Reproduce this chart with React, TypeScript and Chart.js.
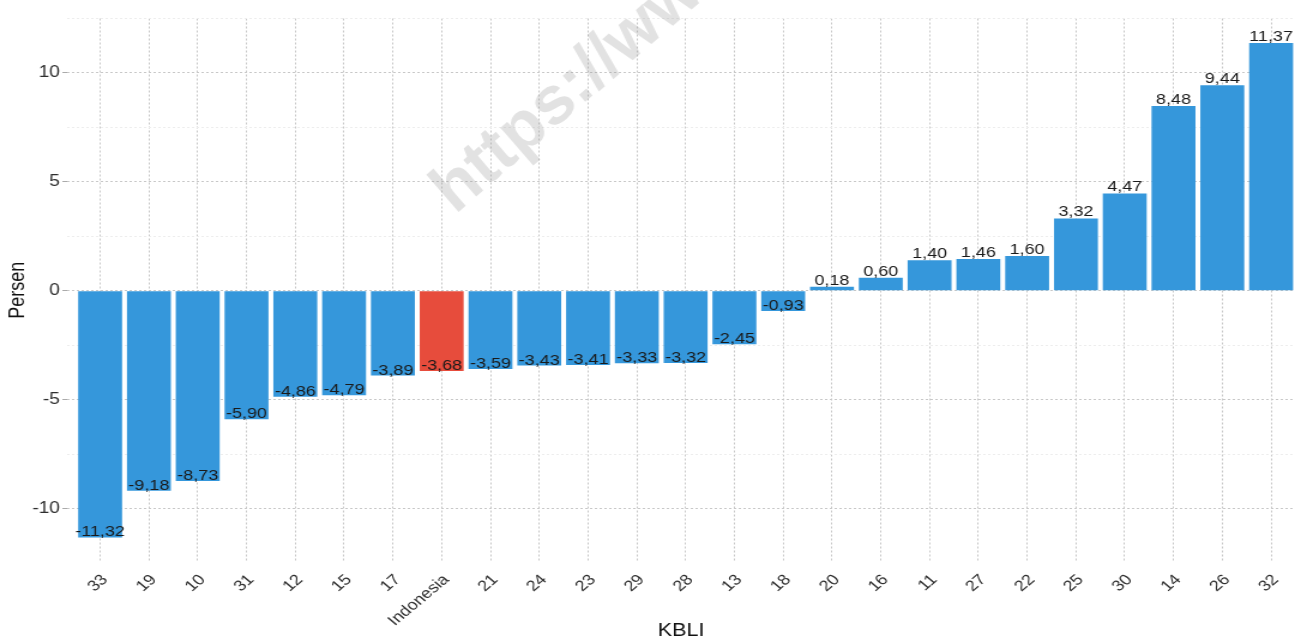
import React, { useEffect, useRef } from 'react';
import { Chart, registerables } from 'chart.js';

Chart.register(...registerables);

// Growth by KBLI sector (percent), sorted ascending
const CATEGORIES = [
  '33', '19', '10', '31', '12', '15', '17', 'Indonesia', '21', '24', '23', '29', '28',
  '13', '18', '20', '16', '11', '27', '22', '25', '30', '14', '26', '32',
];
const GROWTH = [
  -11.32, -9.18, -8.73, -5.9, -4.86, -4.79, -3.89, -3.68, -3.59, -3.43, -3.41, -3.33, -3.32,
  -2.45, -0.93, 0.18, 0.6, 1.4, 1.46, 1.6, 3.32, 4.47, 8.48, 9.44, 11.37,
];
const HIGHLIGHT = 'Indonesia';
const Y_MAJOR = [-10, -5, 0, 5, 10];
const Y_MINOR = [-7.5, -2.5, 2.5, 7.5, 12.5];
const X_TITLE = 'KBLI';
const Y_TITLE = 'Persen';
const WATERMARK = 'https://ww';

const OUT_W = 1295;
const OUT_H = 642;
const CANVAS_W = 1080;
const STRETCH = OUT_W / CANVAS_W;

const BLUE = '#3597db';
const RED = '#e74c3c';
const FONT = '"Liberation Sans", Arial, Helvetica, sans-serif';

const fmt = (v: number) => v.toFixed(2).replace('.', ',');

const watermarkPlugin = {
  id: 'watermark',
  beforeDatasetsDraw(chart: any) {
    const { ctx } = chart;
    ctx.save();
    ctx.scale(1 / STRETCH, 1);
    ctx.translate(455, 215);
    ctx.rotate((-41 * Math.PI) / 180);
    ctx.font = `bold 68px ${FONT}`;
    ctx.fillStyle = 'rgba(150,150,150,0.28)';
    ctx.textAlign = 'left';
    ctx.textBaseline = 'alphabetic';
    ctx.fillText(WATERMARK, 0, 0);
    ctx.restore();
  },
};

const valueLabelPlugin = {
  id: 'valueLabels',
  afterDatasetsDraw(chart: any) {
    const { ctx } = chart;
    const meta = chart.getDatasetMeta(0);
    ctx.save();
    ctx.font = `15px ${FONT}`;
    ctx.fillStyle = '#1a1a1a';
    ctx.textAlign = 'center';
    ctx.textBaseline = 'alphabetic';
    meta.data.forEach((bar: any, i: number) => {
      const v = GROWTH[i];
      ctx.fillText(fmt(v), bar.x, bar.y - (v >= 0 ? 2 : 1));
    });
    ctx.restore();
  },
};

export default function App() {
  const canvasRef = useRef<HTMLCanvasElement | null>(null);

  useEffect(() => {
    if (!canvasRef.current) return;
    const isMajor = (v: number) => Y_MAJOR.includes(v);

    const chart = new Chart(canvasRef.current, {
      type: 'bar',
      data: {
        datasets: [
          {
            data: GROWTH.map((y, x) => ({ x, y })),
            backgroundColor: CATEGORIES.map((c) => (c === HIGHLIGHT ? RED : BLUE)),
            borderWidth: 0,
            barPercentage: 0.9,
            categoryPercentage: 1,
          },
        ],
      },
      options: {
        animation: false,
        responsive: false,
        devicePixelRatio: 1,
        layout: { padding: { top: 18.5, left: 0, right: 0, bottom: 0 } },
        plugins: {
          legend: { display: false },
          tooltip: { enabled: false },
        },
        scales: {
          x: {
            type: 'linear',
            min: -0.676,
            max: 24.49,
            offset: false,
            grid: { offset: false, color: '#c8c8c8', lineWidth: 1, drawTicks: false },
            border: { display: false, dash: [2, 2] },
            afterBuildTicks: (s: any) => {
              s.ticks = CATEGORIES.map((_, i) => ({ value: i }));
            },
            ticks: {
              autoSkip: false,
              minRotation: 45,
              maxRotation: 45,
              padding: 9,
              labelOffset: 4,
              color: '#2e2e2e',
              font: { family: FONT, size: 15 },
              callback: (v: any) => CATEGORIES[v] ?? '',
            },
            title: {
              display: true,
              text: X_TITLE,
              color: '#111111',
              font: { family: FONT, size: 18 },
              padding: { top: -2, bottom: 0 },
            },
            afterFit: (s: any) => {
              s.height = 80;
              s.paddingLeft = 0;
              s.paddingRight = 0;
            },
          },
          y: {
            type: 'linear',
            min: -12.45,
            max: 12.5,
            afterBuildTicks: (s: any) => {
              s.ticks = [...Y_MAJOR, ...Y_MINOR].sort((a, b) => a - b).map((value) => ({ value }));
            },
            ticks: {
              padding: 2,
              color: '#2e2e2e',
              font: { family: FONT, size: 16 },
              callback: (v: any) => (isMajor(v) ? String(v) : ''),
            },
            grid: {
              color: (c: any) => (isMajor(c.tick?.value) ? '#c8c8c8' : '#ededed'),
              tickColor: (c: any) => (isMajor(c.tick?.value) ? '#aaaaaa' : 'rgba(0,0,0,0)'),
              tickLength: 4,
              tickBorderDash: [],
              lineWidth: 1,
            },
            border: { display: false, dash: [2, 2] },
            title: {
              display: true,
              text: Y_TITLE,
              color: '#111111',
              font: { family: FONT, size: 18 },
              padding: { top: 4, bottom: 0 },
            },
            afterFit: (s: any) => {
              s.width = 56;
              s.paddingTop = 0;
              s.paddingBottom = 0;
            },
          },
        },
      },
      plugins: [watermarkPlugin, valueLabelPlugin],
    } as any);

    return () => chart.destroy();
  }, []);

  return (
    <div
      style={{
        position: 'absolute',
        left: 0,
        top: 0,
        width: OUT_W,
        height: OUT_H,
        overflow: 'hidden',
        background: '#ffffff',
      }}
    >
      <div
        style={{
          width: CANVAS_W,
          height: OUT_H,
          transform: `scaleX(${STRETCH})`,
          transformOrigin: '0 0',
        }}
      >
        <canvas
          ref={canvasRef}
          width={CANVAS_W}
          height={OUT_H}
          style={{ display: 'block', width: CANVAS_W, height: OUT_H }}
        />
      </div>
    </div>
  );
}
